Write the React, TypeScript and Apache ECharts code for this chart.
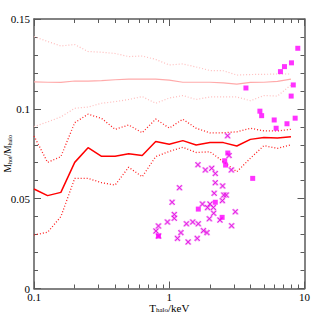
import React, { useEffect, useRef } from "react";
import * as echarts from "echarts";

const T_GRID = [0.1, 0.126, 0.158, 0.2, 0.251, 0.316, 0.398, 0.501, 0.631, 0.794, 1, 1.26, 1.58, 2, 2.51, 3.16, 3.98, 5.01, 6.31, 7.94];

const RED_MEDIAN = [0.0554, 0.0517, 0.0535, 0.0702, 0.0784, 0.0736, 0.0736, 0.075, 0.074, 0.0818, 0.0803, 0.0823, 0.0799, 0.0812, 0.0812, 0.0793, 0.083, 0.0841, 0.0838, 0.0845];
const RED_UPPER = [0.0849, 0.0702, 0.0734, 0.0923, 0.097, 0.0947, 0.0886, 0.091, 0.0867, 0.0943, 0.0893, 0.0942, 0.0892, 0.0866, 0.0867, 0.0872, 0.0892, 0.0877, 0.0877, 0.0886];
const RED_LOWER = [0.0298, 0.0313, 0.04, 0.0613, 0.0613, 0.0589, 0.0576, 0.0675, 0.0622, 0.0734, 0.0763, 0.0786, 0.0757, 0.0761, 0.0706, 0.065, 0.0725, 0.0795, 0.078, 0.08];

const PINK_MEDIAN = [0.115, 0.1148, 0.1147, 0.1155, 0.1154, 0.1157, 0.1162, 0.1165, 0.1165, 0.1165, 0.116, 0.1148, 0.1148, 0.1148, 0.1145, 0.1138, 0.1147, 0.1148, 0.1153, 0.1165];
const PINK_UPPER = [0.1402, 0.1375, 0.135, 0.1358, 0.1319, 0.1315, 0.1308, 0.1291, 0.1294, 0.1275, 0.1244, 0.125, 0.1233, 0.1213, 0.1212, 0.1188, 0.1191, 0.1192, 0.1194, 0.1194];
const PINK_LOWER = [0.0901, 0.0927, 0.0955, 0.1003, 0.101, 0.1031, 0.104, 0.1052, 0.1068, 0.1031, 0.106, 0.1074, 0.1052, 0.1066, 0.1067, 0.1066, 0.1045, 0.1074, 0.1071, 0.1133];

const SQ_T = [8.92, 8.01, 7.11, 6.64, 8.26, 7.97, 3.69, 4.68, 4.82, 5.97, 8.53, 7.42, 6.17, 2.71, 2.57, 2.61, 4.14, 2.19, 1.64, 2.46, 0.832];
const SQ_F = [0.1337, 0.1256, 0.1235, 0.1207, 0.1133, 0.1071, 0.1116, 0.0987, 0.0962, 0.0938, 0.0948, 0.0917, 0.0892, 0.0754, 0.0711, 0.0687, 0.0613, 0.048, 0.0442, 0.0396, 0.0292];

const CR_T = [2.7, 2.77, 1.63, 1.85, 2.06, 2.19, 2.88, 2.19, 2.48, 1.19, 2.15, 2.53, 2.64, 2.47, 1.05, 1.76, 2.0, 1.92, 2.12, 3.08, 2.13, 1.09, 1.09, 1.98, 2.37, 0.97, 1.34, 1.49, 1.64, 2.89, 0.832, 0.797, 1.79, 1.9, 1.22, 0.833, 1.15, 1.61, 1.38];
const CR_F = [0.085, 0.074, 0.0689, 0.066, 0.0669, 0.064, 0.066, 0.0589, 0.0571, 0.0561, 0.053, 0.052, 0.052, 0.0489, 0.048, 0.047, 0.047, 0.045, 0.0451, 0.0427, 0.0419, 0.0412, 0.0391, 0.0388, 0.0381, 0.037, 0.036, 0.037, 0.036, 0.0349, 0.0348, 0.032, 0.0322, 0.0311, 0.0311, 0.0292, 0.0279, 0.0279, 0.0259];

const X_MINOR = [0.2, 0.3, 0.4, 0.5, 0.6, 0.7, 0.8, 0.9, 2, 3, 4, 5, 6, 7, 8, 9];

const FONT = "Liberation Serif";
const AXIS_COLOR = "#5a5a5a";

const pairs = (xs: number[], ys: number[]) => xs.map((x, i) => [x, ys[i]]);

export default function App() {
  const ref = useRef<HTMLDivElement>(null);
  useEffect(() => {
    if (!ref.current) return;
    const chart = echarts.init(ref.current, null, { renderer: "svg" });
    const lineAxis = { show: true, lineStyle: { color: AXIS_COLOR, width: 1.5 } };
    const baseX = { type: "log", logBase: 10, min: 0.1, max: 10, gridIndex: 0, splitLine: { show: false } };
    const baseY = { type: "value", min: 0, max: 0.15, interval: 0.05, gridIndex: 0, splitLine: { show: false } };
    const richX = {
      a: { fontFamily: FONT, fontSize: 11, color: "#000" },
      s: { fontFamily: FONT, fontSize: 7, color: "#000", verticalAlign: "bottom", padding: [4, 0, 0, 0] },
    };
    const richY = {
      a: { fontFamily: FONT, fontSize: 9.5, color: "#000" },
      s: { fontFamily: FONT, fontSize: 6, color: "#000", verticalAlign: "bottom", padding: [3, 0, 0, 0] },
    };
    const lineSeries = (data: number[], color: string, width: number, dotted: boolean) => ({
      type: "line",
      data: pairs(T_GRID, data),
      showSymbol: false,
      symbol: "none",
      lineStyle: { color, width, type: dotted ? [1, 2] : "solid" },
      z: 2,
    });
    chart.setOption({
      animation: false,
      backgroundColor: "#ffffff",
      grid: { left: 34, right: 9.5, top: 19, bottom: 28.5, outerBoundsMode: "none", containLabel: false },
      xAxis: [
        {
          ...baseX,
          position: "bottom",
          axisLine: lineAxis,
          axisTick: { show: true, inside: true, length: 7, lineStyle: { color: AXIS_COLOR, width: 1 } },
          axisLabel: {
            show: true,
            margin: 3,
            fontFamily: FONT,
            fontSize: 11,
            color: "#000",
            formatter: (v: number) => String(v),
          },
          name: "{a|T}{s|halo}{a|/keV}",
          nameLocation: "middle",
          nameGap: 14,
          nameMoveOverlap: false,
          nameTextStyle: { rich: richX },
        },
        {
          ...baseX,
          position: "bottom",
          axisLine: { show: false },
          axisTick: { show: true, inside: true, length: 4, customValues: X_MINOR, lineStyle: { color: AXIS_COLOR, width: 1 } },
          axisLabel: { show: false },
        },
        {
          ...baseX,
          position: "top",
          axisLine: lineAxis,
          axisTick: { show: true, inside: true, length: 7, lineStyle: { color: AXIS_COLOR, width: 1 } },
          axisLabel: { show: false },
        },
        {
          ...baseX,
          position: "top",
          axisLine: { show: false },
          axisTick: { show: true, inside: true, length: 4, customValues: X_MINOR, lineStyle: { color: AXIS_COLOR, width: 1 } },
          axisLabel: { show: false },
        },
      ],
      yAxis: [
        {
          ...baseY,
          position: "left",
          axisLine: lineAxis,
          axisTick: { show: true, inside: true, length: 7, lineStyle: { color: AXIS_COLOR, width: 1 } },
          minorTick: { show: true, splitNumber: 5, length: 4, lineStyle: { color: AXIS_COLOR, width: 1 } },
          axisLabel: { show: true, margin: 4, fontFamily: FONT, fontSize: 11, color: "#000", formatter: (v: number) => String(v) },
          name: "{a|M}{s|hot}{a|/M}{s|halo}",
          nameLocation: "middle",
          nameGap: 21,
          nameMoveOverlap: false,
          nameTextStyle: { rich: richY },
        },
        {
          ...baseY,
          position: "right",
          axisLine: lineAxis,
          axisTick: { show: true, inside: true, length: 7, lineStyle: { color: AXIS_COLOR, width: 1 } },
          minorTick: { show: true, splitNumber: 5, length: 4, lineStyle: { color: AXIS_COLOR, width: 1 } },
          axisLabel: { show: false },
        },
      ],
      series: [
        lineSeries(PINK_UPPER, "#ffbcbc", 1.2, true),
        lineSeries(PINK_MEDIAN, "#ffaaaa", 1.2, false),
        lineSeries(PINK_LOWER, "#ffbcbc", 1.2, true),
        lineSeries(RED_UPPER, "#ff2020", 1.3, true),
        lineSeries(RED_MEDIAN, "#ff0000", 1.5, false),
        lineSeries(RED_LOWER, "#ff2020", 1.3, true),
        {
          type: "scatter",
          data: pairs(CR_T, CR_F),
          symbol: "path://M0,0L10,10M10,0L0,10",
          symbolSize: 5,
          itemStyle: { color: "rgba(0,0,0,0)", borderColor: "#f27ff2", borderWidth: 2.2 },
          z: 3,
        },
        {
          type: "scatter",
          data: pairs(CR_T, CR_F),
          symbol: "path://M0,0L10,10M10,0L0,10",
          symbolSize: 5,
          itemStyle: { color: "rgba(0,0,0,0)", borderColor: "#e000e0", borderWidth: 1 },
          z: 4,
        },
        {
          type: "scatter",
          data: pairs(SQ_T, SQ_F),
          symbol: "rect",
          symbolSize: 5,
          itemStyle: { color: "#ff00ff" },
          z: 5,
        },
      ],
    });
    return () => chart.dispose();
  }, []);
  return <div ref={ref} style={{ position: "fixed", left: 0, top: 0, width: 314, height: 317 }} />;
}
